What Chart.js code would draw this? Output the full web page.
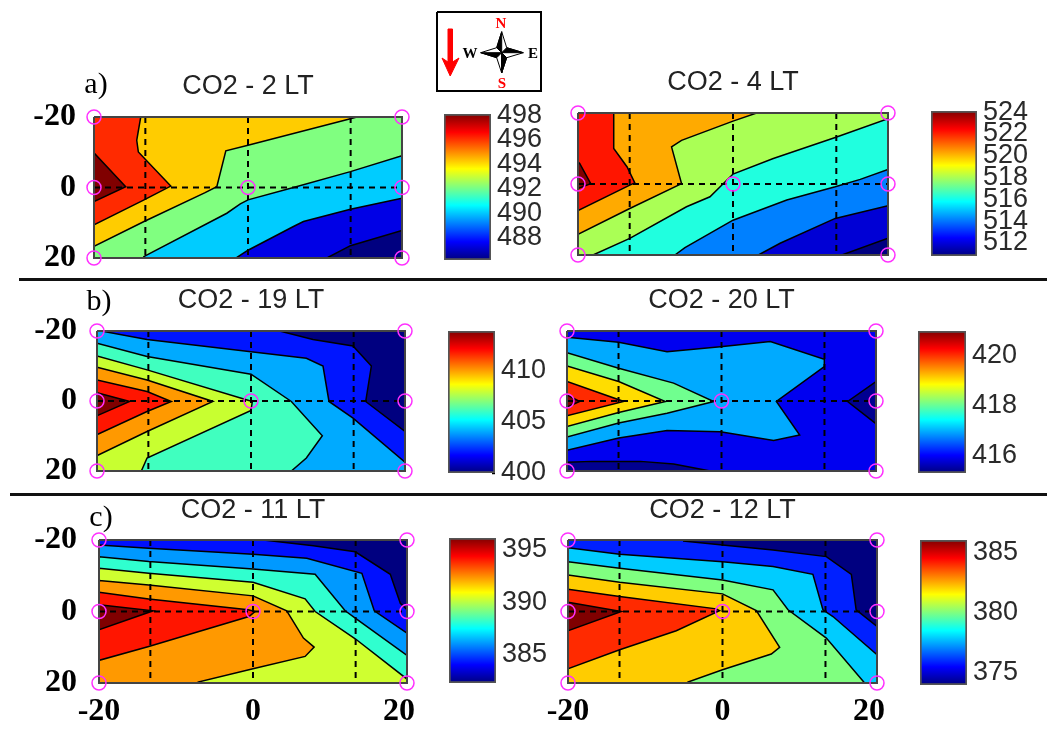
<!DOCTYPE html>
<html>
<head>
<meta charset="utf-8">
<title>CO2 contours</title>
<script src="https://cdn.jsdelivr.net/npm/chart.js@4/dist/chart.umd.min.js"></script>
<style>
  html, body { margin: 0; padding: 0; background: #fff; overflow: hidden; }
  #page { position: relative; width: 1047px; height: 729px; overflow: hidden; }
  canvas { position: absolute; }
  .rule { position: absolute; height: 3px; background: #111; }
  .lbl { position: absolute; font-family: 'Liberation Serif', serif; transform: translate(-50%, -50%); white-space: nowrap; }
</style>
</head>
<body>
<div id="page"></div>
<script>
// station grid + dashed guides, all in km on the plot axes
const axisTicks = [-20, 0, 20];
const guideX = [-13.33, 0, 13.33];
const guideY = [0];
const stationX = [-20, 20, -20, 0, 20, -20, 20];
const stationY = [-20, -20, 0, 0, 0, 20, 20];

// contour regions, painted low to high. each one is [x, y] vertices
const co2_2_bands = [
  [[-20,-20],[20,-20],[20,20],[-20,20]],
  [[10.25,20],[13.3,16.5],[20,12.2],[20,-20],[-20,-20],[-20,20]],
  [[-1.54,20],[0,17.8],[5.9,11.06],[7.2,9.65],[13.3,6.16],[20,3.06],[20,-20],[-20,-20],[-20,20]],
  [[-13.6,19.7],[-2.75,7.3],[-1,4.66],[0,3.5],[5.9,0],[13.3,-4.5],[20,-9],[20,-20],[-20,-20],[-20,20],[-13.6,20]],
  [[-20,16.7],[-13.5,9.65],[-5.57,1.46],[-4.05,-0.24],[-2.88,-10.4],[0,-12],[13.3,-19.5],[14.15,-20],[-20,-20]],
  [[-20,10.6],[-13.5,3.5],[-10.03,-0.4],[-14.24,-10.1],[-14.45,-13.4],[-13.93,-20],[-20,-20]],
  [[-20,4],[-15.88,-0.24],[-20,-9.84]]
];
const co2_4_bands = [
  [[-20,-20],[20,-20],[20,20],[-20,20]],
  [[14.05,20],[20,15.3],[20,-20],[-20,-20],[-20,20]],
  [[3.28,20],[6.08,16.7],[13.19,9.7],[20,6.1],[20,-20],[-20,-20],[-20,20]],
  [[-7.5,20],[-6.2,17.9],[0,10.2],[6.94,4.5],[13.19,0.8],[16.42,-1.3],[20,-4.1],[20,-20],[-20,-20],[-20,20]],
  [[-18.06,20],[-13.32,15.3],[-6,6.4],[-2.97,3.6],[0,-2.8],[5.2,-7.2],[13.19,-13.1],[20,-18.4],[20,-20],[-20,-20],[-20,20]],
  [[-20,14.2],[-13.32,6.9],[-6.64,-0.1],[-7.93,-10.45],[-6.64,-12.3],[0,-17.7],[3.06,-20],[-20,-20]],
  [[-20,7.5],[-13.32,0.3],[-12.67,-0.3],[-13.66,-4.8],[-15.39,-10],[-15.39,-20],[-20,-20]],
  [[-20,1.3],[-18.36,-0.1],[-19.78,-5.8],[-20,-6.2]]
];
const co2_19_bands = [
  [[-20,-20],[20,-20],[20,20],[-20,20]],
  [[3.72,-20],[8.05,-17.6],[13.25,-15.7],[15.63,-10],[14.9,0.14],[20,8.7],[20,20],[-20,20],[-20,-20]],
  [[-19.44,-20],[-13.5,-17.6],[0,-14.1],[7.19,-12.2],[9.35,-10],[10.13,0.14],[13.25,4.9],[20,17.5],[20,20],[-20,20],[-20,-20]],
  [[-20,-16.5],[-13.5,-12.7],[0,-7.65],[5.24,0.14],[9.26,9.93],[7.19,16.3],[5.24,20],[-20,20]],
  [[-20,-12.9],[-13.5,-8.9],[-0.82,-0.5],[0.17,0.14],[0,2.7],[-13.5,16.3],[-14.24,20],[-20,20]],
  [[-20,-9.64],[-13.5,-6],[-4.94,0.14],[-13.5,8.7],[-20,15.6]],
  [[-20,-6],[-13.5,-2.7],[-10.35,0.14],[-13.5,3],[-20,9.6]],
  [[-20,-2.4],[-15.76,0.14],[-20,4.2]]
];
const co2_20_bands = [
  [[-20,-20],[20,-20],[20,20],[-20,20]],
  [[-20,17.5],[-16.76,17.25],[-10.5,17.25],[-6.2,18],[-1.45,20],[-20,20]],
  [[20,-5.56],[16.33,0.14],[20,6.5]],
  [[-20,-18.2],[-13.31,-16.8],[-7.05,-14.1],[-0.15,-15.5],[6.32,-17],[13.31,-11.92],[13.31,-9.83],[7.1,0.14],[10.12,9.74],[6.75,11.26],[-0.15,8.8],[-7.05,8.4],[-13.31,10.6],[-20,14.1]],
  [[-20,-13.82],[-13.31,-9.36],[-6.2,-5.1],[-1,0.14],[-7.05,3.47],[-13.31,6.3],[-20,10.3]],
  [[-20,-10],[-13.31,-5.56],[-7.27,0.14],[-13.31,3.28],[-20,7.27]],
  [[-20,-5.56],[-12.66,0.14],[-20,4.2]],
  [[-20,-1.76],[-18.36,0.14],[-20,1.76]]
];
const co2_11_bands = [
  [[-20,-20],[20,-20],[20,20],[-20,20]],
  [[1.35,-20],[7.85,-18.4],[13.28,-16.7],[17.83,-10.4],[19.13,-2.3],[20,-0.5],[20,20],[-20,20],[-20,-20]],
  [[-20,-18.6],[-13.54,-17.7],[0,-16],[6.98,-14.9],[14.14,-10.7],[15.75,-0.2],[20,6.05],[20,20],[-20,20]],
  [[-20,-15.35],[-13.54,-14],[0,-11.9],[8.07,-10.4],[11.97,-0.2],[13.28,1.86],[20,12.28],[20,20],[-20,20]],
  [[-20,-12.1],[-13.54,-10.7],[0,-8.2],[6.77,-3.53],[8.07,0],[13.28,7.63],[20,18.9],[20,20],[-20,20]],
  [[-20,-8.65],[-13.54,-7.44],[0,-4.37],[4.38,-0.2],[6.55,7.44],[7.94,9.95],[6.77,12.56],[0,16],[-7.12,19.72],[-7.12,20],[-20,20]],
  [[-20,-5.4],[-13.54,-3.5],[-0.61,-0.5],[0.26,0],[-0.52,1.4],[-13.54,9.77],[-20,13.67]],
  [[-20,-1.86],[-12.97,-0.2],[-20,5.1]]
];
const co2_12_bands = [
  [[-20,-20],[20,-20],[20,20],[-20,20]],
  [[-5.11,-19.7],[0,-18.6],[6.54,-17.2],[13.44,-15.35],[16.68,-10.4],[17.3,-0.47],[20,4.2],[20,20],[-20,20],[-20,-20],[-5.11,-20]],
  [[-20,-17.86],[-13.31,-16],[0,-13.95],[6.54,-12.56],[11.7,-10.4],[13,-0.47],[14.3,1.4],[20,12.1],[20,20],[-20,20]],
  [[-20,-13.95],[-13.31,-12.1],[0,-8.84],[6.54,-6.05],[8.48,-0.47],[13.44,7.44],[18.4,20],[-20,20]],
  [[-20,-10.2],[-13.31,-8.2],[0,-4.93],[4.38,-0.28],[7.4,10],[6.32,11.9],[0,16.28],[-4.47,19.72],[-4.47,20],[-20,20]],
  [[-20,-6.2],[-13.31,-4.2],[-0.8,-0.74],[-0.37,-0.2],[-5.98,5.4],[-13.31,10.7],[-20,16]],
  [[-20,-2.6],[-13.1,0],[-20,5.4]]
];

const co2_2_colors = ['#000080', '#0000e6', '#00ccff', '#80ff80', '#ffcc00', '#ff2a00', '#800000'];
const co2_4_colors = ['#000080', '#0000d5', '#0080ff', '#20ffdf', '#aaff55', '#ffaa00', '#ff1500', '#800000'];
const co2_19_colors = ['#000080', '#0015ff', '#00aaff', '#40ffbf', '#c8ff30', '#ff9900', '#ff1500', '#800000'];
const co2_20_colors = ['#0000f0', '#000090', '#000090', '#00aaff', '#70ff8f', '#ffdd00', '#ff2a00', '#800000'];
const co2_11_colors = ['#000080', '#0010ff', '#0099ff', '#30ffcf', '#cfff30', '#ff9900', '#ff1500', '#800000'];
const co2_12_colors = ['#000080', '#0020ff', '#00ccff', '#80ff80', '#ffcc00', '#ff2a00', '#800000'];

// colorbar range and its tick labels
const co2_2_range = [486.2, 498.1];
const co2_2_ticks = [488, 490, 492, 494, 496, 498];
const co2_4_range = [510.8, 524.1];
const co2_4_ticks = [512, 514, 516, 518, 520, 522, 524];
const co2_19_range = [400, 413.8];
const co2_19_ticks = [400, 405, 410];
const co2_20_range = [415.3, 421];
const co2_20_ticks = [416, 418, 420];
const co2_11_range = [382.3, 396.1];
const co2_11_ticks = [385, 390, 395];
const co2_12_range = [374, 386];
const co2_12_ticks = [375, 380, 385];

const jetStops = [[0, '#00007f'], [0.125, '#0000ff'], [0.375, '#00ffff'], [0.625, '#ffff00'], [0.875, '#ff0000'], [1, '#7f0000']];

const page = document.getElementById('page');

function addCanvas(left, top, width, height) {
  const c = document.createElement('canvas');
  c.width = width;
  c.height = height;
  c.style.left = left + 'px';
  c.style.top = top + 'px';
  c.style.width = width + 'px';
  c.style.height = height + 'px';
  page.appendChild(c);
  return c.getContext('2d');
}

function addLabel(text, x, y, size, color, bold) {
  const d = document.createElement('div');
  d.className = 'lbl';
  d.textContent = text;
  d.style.left = x + 'px';
  d.style.top = y + 'px';
  d.style.fontSize = size + 'px';
  d.style.color = color;
  if (bold) d.style.fontWeight = 'bold';
  page.appendChild(d);
}

function toPoints(list) {
  return list.map(p => ({ x: p[0], y: p[1] }));
}

function contourChart(p) {
  const AXIS_W = 72, AXIS_H = 46, TITLE_LINE = 32;
  const plotW = p.right - p.left, plotH = p.bottom - p.top;
  const titleGap = p.top - p.titleY - TITLE_LINE / 2;
  const rightPad = 24;
  const width = AXIS_W + plotW + rightPad;
  const height = TITLE_LINE + titleGap + plotH + AXIS_H;
  const ctx = addCanvas(p.left - AXIS_W, p.top - TITLE_LINE - titleGap, width, height);

  // bottom-up, chart.js paints dataset 0 last so it gets reversed below
  const layers = p.bands.map((band, i) => {
    const pts = toPoints(band);
    pts.push(pts[0]);
    return {
      data: pts, showLine: true, fill: 'shape', backgroundColor: p.colors[i],
      borderColor: '#000', borderWidth: 1.5, pointRadius: 0, tension: 0
    };
  });
  guideX.forEach(g => layers.push({
    data: [{ x: g, y: -20 }, { x: g, y: 20 }], showLine: true, borderColor: '#000',
    borderWidth: 2, borderDash: [6, 5], pointRadius: 0
  }));
  guideY.forEach(g => layers.push({
    data: [{ x: -20, y: g }, { x: 20, y: g }], showLine: true, borderColor: '#000',
    borderWidth: 2, borderDash: [6, 5], pointRadius: 0
  }));
  layers.push({
    data: [{ x: -20, y: -20 }, { x: 20, y: -20 }, { x: 20, y: 20 }, { x: -20, y: 20 }, { x: -20, y: -20 }],
    showLine: true, borderColor: '#444', borderWidth: 2, pointRadius: 0, clip: false
  });
  layers.push({
    data: stationX.map((x, i) => ({ x: x, y: stationY[i] })), showLine: false, clip: false,
    pointRadius: 7, pointBorderColor: '#ff30ff', pointBorderWidth: 1.5, pointBackgroundColor: 'rgba(0,0,0,0)'
  });

  const tickFont = { family: "'Liberation Serif', serif", size: 32, weight: 'bold' };
  new Chart(ctx, {
    type: 'scatter',
    data: { datasets: layers.reverse() },
    options: {
      responsive: false,
      animation: false,
      events: [],
      layout: { padding: { right: rightPad } },
      plugins: {
        legend: { display: false },
        tooltip: { enabled: false },
        title: {
          display: true, text: p.title, color: '#222', fullSize: false,
          font: { family: "'Liberation Sans', sans-serif", size: 27, weight: 'normal', lineHeight: TITLE_LINE + 'px' },
          padding: { top: 0, bottom: titleGap }
        }
      },
      scales: {
        x: {
          type: 'linear', min: -20, max: 20,
          grid: { display: false, drawTicks: false },
          border: { display: false },
          // the right-hand label sits a little inside the frame in the original
          ticks: { display: p.showX, color: '#000', font: tickFont, padding: 10, maxRotation: 0, callback: v => v === 20 ? '20\u00a0\u00a0' : String(v) },
          afterBuildTicks: s => { s.ticks = axisTicks.map(v => ({ value: v })); },
          afterFit: s => { s.height = AXIS_H; s.paddingLeft = 0; s.paddingRight = 0; }
        },
        y: {
          type: 'linear', min: -20, max: 20, reverse: true,
          grid: { display: false, drawTicks: false },
          border: { display: false },
          ticks: { display: p.showY, color: '#000', font: tickFont, padding: p.tickPad, callback: v => String(v) },
          afterBuildTicks: s => { s.ticks = axisTicks.map(v => ({ value: v })); },
          afterFit: s => { s.width = AXIS_W; s.paddingTop = 0; s.paddingBottom = 0; }
        }
      }
    }
  });
}

function colorbarChart(p) {
  const AXIS_W = 70, PAD = 16;
  const barW = p.right - p.left, barH = p.bottom - p.top;
  const ctx = addCanvas(p.left, p.top - PAD, barW + AXIS_W, barH + 2 * PAD);
  new Chart(ctx, {
    type: 'bar',
    data: {
      labels: [''],
      datasets: [{
        data: [p.range],
        barPercentage: 1,
        categoryPercentage: 1,
        borderColor: '#555',
        borderWidth: 2,
        borderSkipped: false,
        backgroundColor: c => {
          const area = c.chart.chartArea;
          if (!area) return '#888';
          const g = c.chart.ctx.createLinearGradient(0, area.bottom, 0, area.top);
          jetStops.forEach(s => g.addColorStop(s[0], s[1]));
          return g;
        }
      }]
    },
    options: {
      responsive: false,
      animation: false,
      events: [],
      layout: { padding: { top: PAD, bottom: PAD } },
      plugins: { legend: { display: false }, tooltip: { enabled: false } },
      scales: {
        x: { display: false },
        y: {
          position: 'right', min: p.range[0], max: p.range[1],
          grid: { drawOnChartArea: false, tickLength: -3, color: '#000', tickWidth: 1.5 },
          border: { display: false },
          ticks: { color: '#2a2a2a', padding: 9, autoSkip: false, font: { family: "'Liberation Sans', sans-serif", size: 27 }, callback: v => String(v) },
          afterBuildTicks: s => { s.ticks = p.ticks.map(v => ({ value: v })); },
          afterFit: s => { s.width = AXIS_W; s.paddingTop = 0; s.paddingBottom = 0; }
        }
      }
    }
  });
}

// north marker box, in pixels of the little box itself
const boxFrame = [[0, 0], [104, 0], [104, 79], [0, 79], [0, 0]];
const arrowShape = [[11, 17], [15.5, 17], [15.5, 50], [22, 46], [13.2, 64], [5, 46], [11, 50]];
const starOutline = [[64.7, 19.7], [69.7, 35.7], [86.3, 40.7], [69.7, 45.7], [64.7, 61], [59.7, 45.7], [43.7, 40.7], [59.7, 35.7]];
const starBlack = [
  [[64.7, 40.7], [64.7, 19.7], [59.7, 35.7]],
  [[64.7, 40.7], [86.3, 40.7], [69.7, 35.7]],
  [[64.7, 40.7], [64.7, 61], [69.7, 45.7]],
  [[64.7, 40.7], [43.7, 40.7], [59.7, 45.7]]
];

function compassChart() {
  const ctx = addCanvas(434, 9, 110, 85);
  const poly = (list, fillCol, lineCol) => {
    const pts = toPoints(list);
    pts.push(pts[0]);
    return { data: pts, showLine: true, fill: 'shape', backgroundColor: fillCol, borderColor: lineCol, borderWidth: 1, pointRadius: 0 };
  };
  const sets = [poly(starOutline, '#fff', '#000'), poly(arrowShape, '#ff0000', '#ff0000')];
  starBlack.forEach(s => sets.push(poly(s, '#000', '#000')));
  sets.push({ data: toPoints(boxFrame), showLine: true, borderColor: '#000', borderWidth: 2, pointRadius: 0, clip: false });
  new Chart(ctx, {
    type: 'scatter',
    data: { datasets: sets.reverse() },
    options: {
      responsive: false,
      animation: false,
      events: [],
      layout: { padding: 3 },
      plugins: { legend: { display: false }, tooltip: { enabled: false } },
      scales: {
        x: { display: false, type: 'linear', min: 0, max: 104 },
        y: { display: false, type: 'linear', min: 0, max: 79, reverse: true }
      }
    }
  });
}

contourChart({ title: 'CO2 - 2 LT', bands: co2_2_bands, colors: co2_2_colors, left: 94, right: 402, top: 117, bottom: 258, titleY: 87, showX: false, showY: true, tickPad: 18 });
contourChart({ title: 'CO2 - 4 LT', bands: co2_4_bands, colors: co2_4_colors, left: 578, right: 888, top: 113, bottom: 255, titleY: 83, showX: false, showY: false, tickPad: 14 });
contourChart({ title: 'CO2 - 19 LT', bands: co2_19_bands, colors: co2_19_colors, left: 97, right: 405, top: 331, bottom: 471, titleY: 301, showX: false, showY: true, tickPad: 20 });
contourChart({ title: 'CO2 - 20 LT', bands: co2_20_bands, colors: co2_20_colors, left: 567, right: 876, top: 331, bottom: 471, titleY: 301, showX: false, showY: false, tickPad: 14 });
contourChart({ title: 'CO2 - 11 LT', bands: co2_11_bands, colors: co2_11_colors, left: 99, right: 407, top: 540, bottom: 683, titleY: 511, showX: true, showY: true, tickPad: 22 });
contourChart({ title: 'CO2 - 12 LT', bands: co2_12_bands, colors: co2_12_colors, left: 568, right: 877, top: 540, bottom: 683, titleY: 511, showX: true, showY: false, tickPad: 14 });

colorbarChart({ range: co2_2_range, ticks: co2_2_ticks, left: 444, right: 491, top: 114, bottom: 260 });
colorbarChart({ range: co2_4_range, ticks: co2_4_ticks, left: 931, right: 977, top: 111, bottom: 256 });
colorbarChart({ range: co2_19_range, ticks: co2_19_ticks, left: 448, right: 495, top: 331, bottom: 473 });
colorbarChart({ range: co2_20_range, ticks: co2_20_ticks, left: 918, right: 966, top: 331, bottom: 473 });
colorbarChart({ range: co2_11_range, ticks: co2_11_ticks, left: 449, right: 496, top: 538, bottom: 683 });
colorbarChart({ range: co2_12_range, ticks: co2_12_ticks, left: 920, right: 967, top: 540, bottom: 685 });

compassChart();

[[19, 278, 1028], [10, 493, 1037]].forEach(r => {
  const d = document.createElement('div');
  d.className = 'rule';
  d.style.left = r[0] + 'px';
  d.style.top = r[1] + 'px';
  d.style.width = r[2] + 'px';
  page.appendChild(d);
});

addLabel('a)', 96, 83, 30, '#000');
addLabel('b)', 99, 300, 30, '#000');
addLabel('c)', 101, 516, 30, '#000');
addLabel('N', 501, 23, 15, '#ff0000', true);
addLabel('S', 502, 83, 15, '#ff0000', true);
addLabel('W', 470, 53, 15, '#000', true);
addLabel('E', 533, 53, 15, '#000', true);
</script>
</body>
</html>
